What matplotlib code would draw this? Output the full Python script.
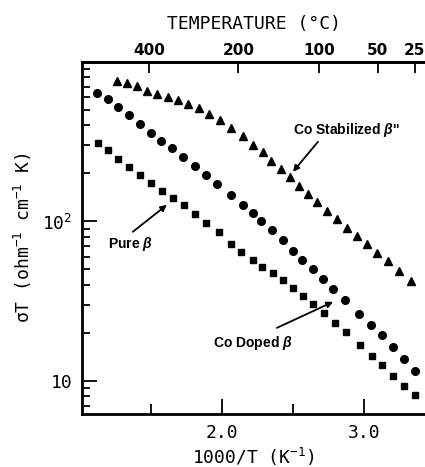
import numpy as np
import matplotlib
matplotlib.use('Agg')
import matplotlib.pyplot as plt
from matplotlib.ticker import LogLocator, FixedLocator, NullFormatter

plt.rcParams['mathtext.fontset'] = 'custom'
plt.rcParams['mathtext.rm'] = 'DejaVu Sans Mono'
plt.rcParams['mathtext.it'] = 'Liberation Sans:italic:bold'
plt.rcParams['mathtext.bf'] = 'DejaVu Sans Mono:bold'

# 1000/T (K^-1) and sigma*T
stab_x = [1.261, 1.327, 1.401, 1.472, 1.542, 1.618, 1.688, 1.758, 1.834, 1.908,
          1.984, 2.063, 2.148, 2.214, 2.289, 2.345, 2.415, 2.477, 2.538, 2.604,
          2.669, 2.735, 2.810, 2.880, 2.946, 3.017, 3.092, 3.167, 3.242, 3.327]
stab_y = [764, 739, 708, 661, 627, 600, 575, 546, 515, 474,
          435, 385, 342, 302, 271, 240, 213, 189, 168, 149,
          132, 116, 104, 91.3, 81.6, 72.1, 63.4, 56.1, 49.1, 42.5]

doped_x = [1.120, 1.195, 1.270, 1.345, 1.420, 1.496, 1.570, 1.646, 1.725, 1.806,
           1.885, 1.961, 2.059, 2.144, 2.214, 2.275, 2.350, 2.425, 2.500, 2.563,
           2.637, 2.711, 2.782, 2.863, 2.965, 3.045, 3.121, 3.202, 3.280, 3.356]
doped_y = [640, 589, 520, 463, 406, 360, 320, 289, 254, 223,
           196, 172, 146, 127, 113, 100, 87.8, 76.8, 64.8, 57.5,
           50.3, 43.5, 37.6, 32.0, 26.3, 22.5, 19.5, 16.4, 13.7, 11.6]

pure_x = [1.125, 1.200, 1.270, 1.345, 1.420, 1.500, 1.575, 1.653, 1.730, 1.808,
          1.885, 1.975, 2.061, 2.134, 2.216, 2.283, 2.355, 2.430, 2.500, 2.568,
          2.637, 2.713, 2.796, 2.871, 2.970, 3.052, 3.127, 3.204, 3.280, 3.357]
pure_y = [310, 279, 248, 221, 196, 174, 155, 141, 126, 111,
          97.7, 85.3, 72.4, 64.5, 57.5, 51.6, 47.4, 42.7, 38.4, 34.3,
          30.4, 26.5, 23.2, 20.2, 16.8, 14.4, 12.5, 10.7, 9.31, 8.17]

top_temps = [400, 200, 100, 50, 25]

mono = 'DejaVu Sans Mono'
sans = 'Liberation Sans'

fig = plt.figure(figsize=(4.25, 4.67), dpi=100)
ax = fig.add_axes([0.193, 0.1135, 0.807, 0.7537])

ax.plot(stab_x, stab_y, ls='none', marker='^', ms=5.5, color='black')
ax.plot(doped_x, doped_y, ls='none', marker='o', ms=5.5, color='black')
ax.plot(pure_x, pure_y, ls='none', marker='s', ms=4.8, color='black')

ax.set_yscale('log')
ax.set_xlim(1.014, 3.427)
ax.set_ylim(6.2, 1000)

for s in ['left', 'bottom', 'top']:
    ax.spines[s].set_linewidth(2)
ax.spines['right'].set_visible(False)

ax.set_xticks([2.0, 3.0])
ax.set_xticklabels(['2.0', '3.0'], family=mono, fontsize=13)
ax.xaxis.set_minor_locator(FixedLocator([1.5, 2.5]))
ax.tick_params(axis='x', which='major', direction='in', length=11, width=1.3, pad=7)
ax.tick_params(axis='x', which='minor', direction='in', length=7, width=1.3)

ax.yaxis.set_major_locator(FixedLocator([10, 100]))
ax.set_yticklabels(['10', '10$^2$'], family=mono, fontsize=13)
ax.yaxis.set_minor_locator(LogLocator(base=10, subs=np.arange(2, 10)))
ax.yaxis.set_minor_formatter(NullFormatter())
ax.tick_params(axis='y', which='major', direction='in', length=11, width=1.3, pad=7)
ax.tick_params(axis='y', which='minor', direction='in', length=6, width=1.3)
ax.tick_params(right=False, top=False, which='both')

ax.set_xlabel('1000/T (K$^{-1}$)', family=mono, fontsize=13, labelpad=3)
ax.set_ylabel('σT (ohm$^{-1}$ cm$^{-1}$ K)', family=mono, fontsize=13, labelpad=6)

# top axis: temperature in deg C
ax2 = ax.twiny()
ax2.set_xlim(ax.get_xlim())
ax2.spines['right'].set_visible(False)
ax2.spines['top'].set_linewidth(2)
ax2.set_xticks([1000 / (t + 273.15) for t in top_temps])
ax2.set_xticklabels([str(t) for t in top_temps], family='DejaVu Sans', fontweight='bold', fontsize=11)
ax2.tick_params(axis='x', direction='in', length=8, width=1.3, pad=3)
ax2.set_xlabel('TEMPERATURE (°C)', family=mono, fontsize=13, labelpad=10)

# labels with arrows
arw = dict(arrowstyle='-|>', color='black', lw=1.3, mutation_scale=9, shrinkA=0, shrinkB=0)
ax.text(2.499, 377, "Co Stabilized $\\beta$''", family=sans, fontweight='bold', fontsize=10, va='center')
ax.annotate('', xy=(2.498, 205), xytext=(2.674, 316), arrowprops=arw)
ax.text(1.196, 72.4, 'Pure $\\beta$', family=sans, fontweight='bold', fontsize=10, va='center')
ax.annotate('', xy=(1.611, 127), xytext=(1.371, 86.1), arrowprops=arw)
ax.text(1.934, 17.3, 'Co Doped $\\beta$', family=sans, fontweight='bold', fontsize=10, va='center')
ax.annotate('', xy=(2.780, 31.3), xytext=(2.385, 21.5), arrowprops=arw)

fig.savefig('out.png', dpi=100)
